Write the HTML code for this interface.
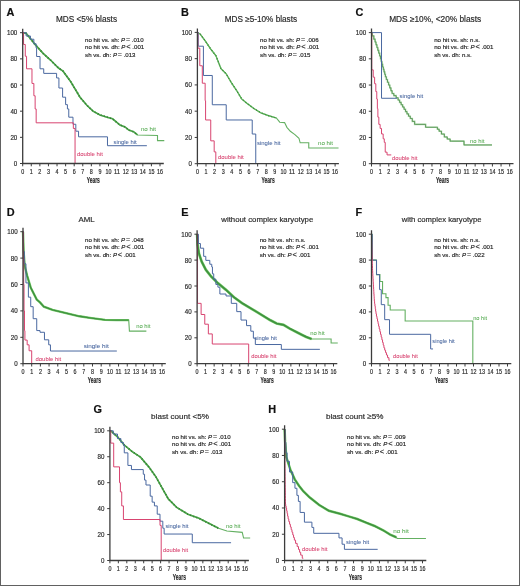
<!DOCTYPE html>
<html><head><meta charset="utf-8"><style>
html,body{margin:0;padding:0;background:#fff;}
body{width:520px;height:586px;overflow:hidden;position:relative;}
svg{position:absolute;left:0;top:0;font-family:"Liberation Sans", sans-serif;filter:blur(0.3px);}
</style></head><body>
<svg width="520" height="586" viewBox="0 0 520 586" fill="#2a2a2a">
<rect x="0.5" y="0.5" width="519" height="585" fill="#fff" stroke="#616161" stroke-width="1"/>
<path d="M22.7,32.7 L26.13,33.35 L35.4,44.86 L43.12,53.37 L50.76,60.3 L58.48,68.02 L63.03,71.16 L70.75,81.75 L80.02,97.18 L86.89,105.29 L93.07,111.18 L100.02,114.97 L106.28,116.94 L112.55,118.77 L116.24,121.91 L120.01,125.04 L124.99,126.88 L128.76,130.02 L133.74,131.85 L137.52,134.99 L157.51,135.51 L157.51,140.61 L164.29,140.61" fill="none" stroke="#64b062" stroke-width="1.1"/>
<path d="M22.7,32.7 L26.13,33.35 L35.4,44.86 L43.12,53.37 L50.76,60.3 L58.48,68.02 L63.03,71.16 L70.75,81.75 L80.02,97.18 L86.89,105.29 L93.07,111.18 L100.02,114.97 L106.28,116.94 L112.55,118.77 L116.24,121.91 L120.01,125.04 L124.99,126.88 L128.76,130.02 L133.74,131.85 L137.52,134.99" fill="none" stroke="#4aa648" stroke-width="1.6"/>
<path d="M22.7,32.7 L26.13,33.35 L35.4,44.86 L43.12,53.37 L50.76,60.3 L58.48,68.02 L63.03,71.16 L70.75,81.75 L80.02,97.18 L86.89,105.29 L93.07,111.18 L100.02,114.97 L106.28,116.94 L112.55,118.77 L116.24,121.91 L120.01,125.04 L124.99,126.88 L128.76,130.02 L133.74,131.85 L137.52,134.99" fill="none" stroke="#336f33" stroke-width="1.8" stroke-dasharray="0.7 2.6"/>
<path d="M22.7,32.7 H26.13 V35.97 H30.42 V39.24 H33.86 V43.82 H36.17 V48 H36.6 V56.51 H40.03 V68.8 H43.72 V73.38 H56.6 V77.96 H58.91 V88.03 H62.6 V97.18 H65.61 V104.64 H67.41 V108.96 H68.78 V117.2 H72.99 V124.26 H75.82 V131.19 H78.56 V136.82 H107.48 V145.71 H146.87" fill="none" stroke="#4a68a0" stroke-width="1"/>
<path d="M22.7,32.7 H23.56 V44.47 H25.27 V56.24 H26.56 V68.8 H31.97 V83.45 H33.86 V95.75 H35.14 V108.96 H36.17 V122.82 H73.33 V128.45 H75.05 V163.5 H75.05" fill="none" stroke="#d84470" stroke-width="1"/>
<path d="M22.7,28.7 V163.5 H163.8" fill="none" stroke="#3c3c3c" stroke-width="1.3"/>
<path d="M20,163.5 H22.7 M20,137.34 H22.7 M20,111.18 H22.7 M20,85.02 H22.7 M20,58.86 H22.7 M20,32.7 H22.7 M22.7,163.5 V166.3 M31.28,163.5 V166.3 M39.86,163.5 V166.3 M48.44,163.5 V166.3 M57.03,163.5 V166.3 M65.61,163.5 V166.3 M74.19,163.5 V166.3 M82.77,163.5 V166.3 M91.35,163.5 V166.3 M99.93,163.5 V166.3 M108.51,163.5 V166.3 M117.09,163.5 V166.3 M125.68,163.5 V166.3 M134.26,163.5 V166.3 M142.84,163.5 V166.3 M151.42,163.5 V166.3 M160,163.5 V166.3" stroke="#3c3c3c" stroke-width="1"/>
<text x="17.3" y="166" font-size="7.0" textLength="3.45" lengthAdjust="spacingAndGlyphs" text-anchor="end" stroke="#2a2a2a" stroke-width="0.18">0</text>
<text x="17.3" y="139.84" font-size="7.0" textLength="6.9" lengthAdjust="spacingAndGlyphs" text-anchor="end" stroke="#2a2a2a" stroke-width="0.18">20</text>
<text x="17.3" y="113.68" font-size="7.0" textLength="6.9" lengthAdjust="spacingAndGlyphs" text-anchor="end" stroke="#2a2a2a" stroke-width="0.18">40</text>
<text x="17.3" y="87.52" font-size="7.0" textLength="6.9" lengthAdjust="spacingAndGlyphs" text-anchor="end" stroke="#2a2a2a" stroke-width="0.18">60</text>
<text x="17.3" y="61.36" font-size="7.0" textLength="6.9" lengthAdjust="spacingAndGlyphs" text-anchor="end" stroke="#2a2a2a" stroke-width="0.18">80</text>
<text x="17.3" y="35.2" font-size="7.0" textLength="10.35" lengthAdjust="spacingAndGlyphs" text-anchor="end" stroke="#2a2a2a" stroke-width="0.18">100</text>
<text x="22.7" y="173.9" font-size="6.8" textLength="3" lengthAdjust="spacingAndGlyphs" text-anchor="middle" stroke="#2a2a2a" stroke-width="0.18">0</text>
<text x="31.28" y="173.9" font-size="6.8" textLength="3" lengthAdjust="spacingAndGlyphs" text-anchor="middle" stroke="#2a2a2a" stroke-width="0.18">1</text>
<text x="39.86" y="173.9" font-size="6.8" textLength="3" lengthAdjust="spacingAndGlyphs" text-anchor="middle" stroke="#2a2a2a" stroke-width="0.18">2</text>
<text x="48.44" y="173.9" font-size="6.8" textLength="3" lengthAdjust="spacingAndGlyphs" text-anchor="middle" stroke="#2a2a2a" stroke-width="0.18">3</text>
<text x="57.03" y="173.9" font-size="6.8" textLength="3" lengthAdjust="spacingAndGlyphs" text-anchor="middle" stroke="#2a2a2a" stroke-width="0.18">4</text>
<text x="65.61" y="173.9" font-size="6.8" textLength="3" lengthAdjust="spacingAndGlyphs" text-anchor="middle" stroke="#2a2a2a" stroke-width="0.18">5</text>
<text x="74.19" y="173.9" font-size="6.8" textLength="3" lengthAdjust="spacingAndGlyphs" text-anchor="middle" stroke="#2a2a2a" stroke-width="0.18">6</text>
<text x="82.77" y="173.9" font-size="6.8" textLength="3" lengthAdjust="spacingAndGlyphs" text-anchor="middle" stroke="#2a2a2a" stroke-width="0.18">7</text>
<text x="91.35" y="173.9" font-size="6.8" textLength="3" lengthAdjust="spacingAndGlyphs" text-anchor="middle" stroke="#2a2a2a" stroke-width="0.18">8</text>
<text x="99.93" y="173.9" font-size="6.8" textLength="3" lengthAdjust="spacingAndGlyphs" text-anchor="middle" stroke="#2a2a2a" stroke-width="0.18">9</text>
<text x="108.51" y="173.9" font-size="6.8" textLength="6" lengthAdjust="spacingAndGlyphs" text-anchor="middle" stroke="#2a2a2a" stroke-width="0.18">10</text>
<text x="117.09" y="173.9" font-size="6.8" textLength="6" lengthAdjust="spacingAndGlyphs" text-anchor="middle" stroke="#2a2a2a" stroke-width="0.18">11</text>
<text x="125.68" y="173.9" font-size="6.8" textLength="6" lengthAdjust="spacingAndGlyphs" text-anchor="middle" stroke="#2a2a2a" stroke-width="0.18">12</text>
<text x="134.26" y="173.9" font-size="6.8" textLength="6" lengthAdjust="spacingAndGlyphs" text-anchor="middle" stroke="#2a2a2a" stroke-width="0.18">13</text>
<text x="142.84" y="173.9" font-size="6.8" textLength="6" lengthAdjust="spacingAndGlyphs" text-anchor="middle" stroke="#2a2a2a" stroke-width="0.18">14</text>
<text x="151.42" y="173.9" font-size="6.8" textLength="6" lengthAdjust="spacingAndGlyphs" text-anchor="middle" stroke="#2a2a2a" stroke-width="0.18">15</text>
<text x="160" y="173.9" font-size="6.8" textLength="6" lengthAdjust="spacingAndGlyphs" text-anchor="middle" stroke="#2a2a2a" stroke-width="0.18">16</text>
<text x="93.25" y="183" font-size="8.6" textLength="13.2" lengthAdjust="spacingAndGlyphs" text-anchor="middle" font-weight="bold" stroke="#2a2a2a" stroke-width="0.18">Years</text>
<text x="6.6" y="15.7" font-size="10.9" font-weight="bold" fill="#111" stroke="#111" stroke-width="0.18">A</text>
<text x="56" y="21.8" font-size="8.22" textLength="61" lengthAdjust="spacingAndGlyphs" stroke="#2a2a2a" stroke-width="0.18">MDS &lt;5% blasts</text>
<text x="85.1" y="42.1" font-size="6.1" stroke="#2a2a2a" stroke-width="0.18">no hit vs. sh: <tspan font-style="italic">P</tspan><tspan font-size="7" dx="0.9">=</tspan> .010</text>
<text x="85.1" y="49.3" font-size="6.1" stroke="#2a2a2a" stroke-width="0.18">no hit vs. dh: <tspan font-style="italic">P</tspan><tspan font-size="7.4" dx="0.9">&lt;</tspan> .001</text>
<text x="85.1" y="56.5" font-size="6.1" stroke="#2a2a2a" stroke-width="0.18">sh vs. dh: <tspan font-style="italic">P</tspan><tspan font-size="7" dx="0.9">=</tspan> .013</text>
<text x="140.9" y="131.3" font-size="6.15" textLength="15" lengthAdjust="spacingAndGlyphs" fill="#5cae58" stroke="#5cae58" stroke-width="0.06">no hit</text>
<text x="113.5" y="144.1" font-size="6.15" textLength="23.2" lengthAdjust="spacingAndGlyphs" fill="#4a68a0" stroke="#4a68a0" stroke-width="0.06">single hit</text>
<text x="76.9" y="156" font-size="6.15" textLength="26" lengthAdjust="spacingAndGlyphs" fill="#d84470" stroke="#d84470" stroke-width="0.06">double hit</text>
<path d="M197.4,32.4 L200.24,34.11 L205.4,41.07 L210.57,48.81 L215.82,55.64 L220.98,68.64 L226.14,73.76 L231.31,82.56 L236.47,90.3 L241.64,98.84 L246.89,103.3 L253.77,108.42 L260.66,112.76 L267.63,115.38 L276.32,118.01 L279.76,122.21 L284.58,122.6 L286.91,127.33 L290.35,131.27 L294.91,134.68 L298.95,138.23 L300.16,142.82 L308.76,142.82 L308.76,147.94 L338.54,147.94" fill="none" stroke="#64b062" stroke-width="1.1"/>
<path d="M197.4,32.4 L200.24,34.11 L205.4,41.07 L210.57,48.81 L215.82,55.64 L220.98,68.64 L226.14,73.76 L231.31,82.56 L236.47,90.3 L241.64,98.84 L246.89,103.3 L253.77,108.42 L260.66,112.76 L267.63,115.38 L276.32,118.01" fill="none" stroke="#5db55a" stroke-width="1.2"/>
<path d="M197.4,32.4 L200.24,34.11 L205.4,41.07 L210.57,48.81 L215.82,55.64 L220.98,68.64 L226.14,73.76 L231.31,82.56 L236.47,90.3 L241.64,98.84 L246.89,103.3 L253.77,108.42 L260.66,112.76 L267.63,115.38 L276.32,118.01" fill="none" stroke="#3d7d3d" stroke-width="1.4" stroke-dasharray="0.7 2.6"/>
<path d="M197.4,32.4 H198.26 V46.19 H203.42 V75.47 H212.29 V104.75 H226.23 V119.98 H252.22 V134.03 H255.75 V163.7 H255.75" fill="none" stroke="#4a68a0" stroke-width="1"/>
<path d="M197.4,32.4 H197.83 V48.16 H199.81 V65.75 H202.31 V83.21 H205.15 V100.68 H205.58 V119.98 H210.74 V140.85 H214.18 V151.88 H215.82 V163.7 H215.82" fill="none" stroke="#d84470" stroke-width="1"/>
<path d="M197.4,28.4 V163.7 H338.9" fill="none" stroke="#3c3c3c" stroke-width="1.3"/>
<path d="M194.7,163.7 H197.4 M194.7,137.44 H197.4 M194.7,111.18 H197.4 M194.7,84.92 H197.4 M194.7,58.66 H197.4 M194.7,32.4 H197.4 M197.4,163.7 V166.5 M206.01,163.7 V166.5 M214.61,163.7 V166.5 M223.22,163.7 V166.5 M231.83,163.7 V166.5 M240.43,163.7 V166.5 M249.04,163.7 V166.5 M257.64,163.7 V166.5 M266.25,163.7 V166.5 M274.86,163.7 V166.5 M283.46,163.7 V166.5 M292.07,163.7 V166.5 M300.68,163.7 V166.5 M309.28,163.7 V166.5 M317.89,163.7 V166.5 M326.49,163.7 V166.5 M335.1,163.7 V166.5" stroke="#3c3c3c" stroke-width="1"/>
<text x="192" y="166.2" font-size="7.0" textLength="3.45" lengthAdjust="spacingAndGlyphs" text-anchor="end" stroke="#2a2a2a" stroke-width="0.18">0</text>
<text x="192" y="139.94" font-size="7.0" textLength="6.9" lengthAdjust="spacingAndGlyphs" text-anchor="end" stroke="#2a2a2a" stroke-width="0.18">20</text>
<text x="192" y="113.68" font-size="7.0" textLength="6.9" lengthAdjust="spacingAndGlyphs" text-anchor="end" stroke="#2a2a2a" stroke-width="0.18">40</text>
<text x="192" y="87.42" font-size="7.0" textLength="6.9" lengthAdjust="spacingAndGlyphs" text-anchor="end" stroke="#2a2a2a" stroke-width="0.18">60</text>
<text x="192" y="61.16" font-size="7.0" textLength="6.9" lengthAdjust="spacingAndGlyphs" text-anchor="end" stroke="#2a2a2a" stroke-width="0.18">80</text>
<text x="192" y="34.9" font-size="7.0" textLength="10.35" lengthAdjust="spacingAndGlyphs" text-anchor="end" stroke="#2a2a2a" stroke-width="0.18">100</text>
<text x="197.4" y="174.1" font-size="6.8" textLength="3" lengthAdjust="spacingAndGlyphs" text-anchor="middle" stroke="#2a2a2a" stroke-width="0.18">0</text>
<text x="206.01" y="174.1" font-size="6.8" textLength="3" lengthAdjust="spacingAndGlyphs" text-anchor="middle" stroke="#2a2a2a" stroke-width="0.18">1</text>
<text x="214.61" y="174.1" font-size="6.8" textLength="3" lengthAdjust="spacingAndGlyphs" text-anchor="middle" stroke="#2a2a2a" stroke-width="0.18">2</text>
<text x="223.22" y="174.1" font-size="6.8" textLength="3" lengthAdjust="spacingAndGlyphs" text-anchor="middle" stroke="#2a2a2a" stroke-width="0.18">3</text>
<text x="231.83" y="174.1" font-size="6.8" textLength="3" lengthAdjust="spacingAndGlyphs" text-anchor="middle" stroke="#2a2a2a" stroke-width="0.18">4</text>
<text x="240.43" y="174.1" font-size="6.8" textLength="3" lengthAdjust="spacingAndGlyphs" text-anchor="middle" stroke="#2a2a2a" stroke-width="0.18">5</text>
<text x="249.04" y="174.1" font-size="6.8" textLength="3" lengthAdjust="spacingAndGlyphs" text-anchor="middle" stroke="#2a2a2a" stroke-width="0.18">6</text>
<text x="257.64" y="174.1" font-size="6.8" textLength="3" lengthAdjust="spacingAndGlyphs" text-anchor="middle" stroke="#2a2a2a" stroke-width="0.18">7</text>
<text x="266.25" y="174.1" font-size="6.8" textLength="3" lengthAdjust="spacingAndGlyphs" text-anchor="middle" stroke="#2a2a2a" stroke-width="0.18">8</text>
<text x="274.86" y="174.1" font-size="6.8" textLength="3" lengthAdjust="spacingAndGlyphs" text-anchor="middle" stroke="#2a2a2a" stroke-width="0.18">9</text>
<text x="283.46" y="174.1" font-size="6.8" textLength="6" lengthAdjust="spacingAndGlyphs" text-anchor="middle" stroke="#2a2a2a" stroke-width="0.18">10</text>
<text x="292.07" y="174.1" font-size="6.8" textLength="6" lengthAdjust="spacingAndGlyphs" text-anchor="middle" stroke="#2a2a2a" stroke-width="0.18">11</text>
<text x="300.68" y="174.1" font-size="6.8" textLength="6" lengthAdjust="spacingAndGlyphs" text-anchor="middle" stroke="#2a2a2a" stroke-width="0.18">12</text>
<text x="309.28" y="174.1" font-size="6.8" textLength="6" lengthAdjust="spacingAndGlyphs" text-anchor="middle" stroke="#2a2a2a" stroke-width="0.18">13</text>
<text x="317.89" y="174.1" font-size="6.8" textLength="6" lengthAdjust="spacingAndGlyphs" text-anchor="middle" stroke="#2a2a2a" stroke-width="0.18">14</text>
<text x="326.49" y="174.1" font-size="6.8" textLength="6" lengthAdjust="spacingAndGlyphs" text-anchor="middle" stroke="#2a2a2a" stroke-width="0.18">15</text>
<text x="335.1" y="174.1" font-size="6.8" textLength="6" lengthAdjust="spacingAndGlyphs" text-anchor="middle" stroke="#2a2a2a" stroke-width="0.18">16</text>
<text x="268.15" y="183.2" font-size="8.6" textLength="13.2" lengthAdjust="spacingAndGlyphs" text-anchor="middle" font-weight="bold" stroke="#2a2a2a" stroke-width="0.18">Years</text>
<text x="181" y="15.9" font-size="10.9" font-weight="bold" fill="#111" stroke="#111" stroke-width="0.18">B</text>
<text x="224.8" y="22.2" font-size="8.18" textLength="72.2" lengthAdjust="spacingAndGlyphs" stroke="#2a2a2a" stroke-width="0.18">MDS ≥5-10% blasts</text>
<text x="260.1" y="42.1" font-size="6.1" stroke="#2a2a2a" stroke-width="0.18">no hit vs. sh: <tspan font-style="italic">P</tspan><tspan font-size="7" dx="0.9">=</tspan> .006</text>
<text x="260.1" y="49.3" font-size="6.1" stroke="#2a2a2a" stroke-width="0.18">no hit vs. dh: <tspan font-style="italic">P</tspan><tspan font-size="7.4" dx="0.9">&lt;</tspan> .001</text>
<text x="260.1" y="56.5" font-size="6.1" stroke="#2a2a2a" stroke-width="0.18">sh vs. dh: <tspan font-style="italic">P</tspan><tspan font-size="7" dx="0.9">=</tspan> .015</text>
<text x="318" y="144.7" font-size="6.15" textLength="15" lengthAdjust="spacingAndGlyphs" fill="#5cae58" stroke="#5cae58" stroke-width="0.06">no hit</text>
<text x="257" y="145.2" font-size="6.15" textLength="23.5" lengthAdjust="spacingAndGlyphs" fill="#4a68a0" stroke="#4a68a0" stroke-width="0.06">single hit</text>
<text x="218" y="158.7" font-size="6.15" textLength="25.7" lengthAdjust="spacingAndGlyphs" fill="#d84470" stroke="#d84470" stroke-width="0.06">double hit</text>
<path d="M371.5,32.6 H372.28 V35.88 H373.83 V39.16 H374.61 V39.16 H375.07 V41.95 H375.99 V44.75 H376.91 V47.55 H377.37 V47.55 H377.83 V50.34 H378.76 V53.14 H379.68 V55.94 H380.14 V55.94 H380.49 V58.69 H381.21 V61.44 H381.92 V64.2 H382.63 V66.95 H382.99 V66.95 H383.33 V69.41 H384.02 V71.86 H384.72 V74.32 H385.41 V76.78 H385.75 V76.78 H386.33 V79.53 H387.48 V82.29 H388.63 V85.04 H389.21 V85.04 H389.78 V87.88 H390.93 V90.72 H392.09 V93.56 H392.66 V93.56 H393.83 V95.66 H396.16 V97.76 H397.33 V97.76 H398.09 V100.07 H399.62 V102.39 H401.14 V104.7 H401.9 V104.7 H402.63 V107 H404.07 V109.29 H405.52 V111.59 H406.97 V113.88 H407.69 V113.88 H408.55 V116.18 H410.28 V118.47 H411.15 V118.47 H412.31 V121.42 H414.64 V124.37 H415.81 V124.37 H425.05 V124.37 H425.61 V127.25 H426.18 V127.25 H436.54 V127.25 H437.4 V129.22 H439.13 V131.19 H440 V131.19 H441.44 V134.07 H444.34 V136.96 H445.78 V136.96 H447.23 V139.05 H450.12 V141.15 H451.57 V141.15 H463.06 V141.15 H464.01 V144.95 H464.96 V144.95 H491.99 V144.95" fill="none" stroke="#b2dcae" stroke-width="1.6"/>
<path d="M371.5,32.6 H372.28 V35.88 H373.83 V39.16 H374.61 V39.16 H375.07 V41.95 H375.99 V44.75 H376.91 V47.55 H377.37 V47.55 H377.83 V50.34 H378.76 V53.14 H379.68 V55.94 H380.14 V55.94 H380.49 V58.69 H381.21 V61.44 H381.92 V64.2 H382.63 V66.95 H382.99 V66.95 H383.33 V69.41 H384.02 V71.86 H384.72 V74.32 H385.41 V76.78 H385.75 V76.78 H386.33 V79.53 H387.48 V82.29 H388.63 V85.04 H389.21 V85.04 H389.78 V87.88 H390.93 V90.72 H392.09 V93.56 H392.66 V93.56 H393.83 V95.66 H396.16 V97.76 H397.33 V97.76 H398.09 V100.07 H399.62 V102.39 H401.14 V104.7 H401.9 V104.7 H402.63 V107 H404.07 V109.29 H405.52 V111.59 H406.97 V113.88 H407.69 V113.88 H408.55 V116.18 H410.28 V118.47 H411.15 V118.47 H412.31 V121.42 H414.64 V124.37 H415.81 V124.37 H425.05 V124.37 H425.61 V127.25 H426.18 V127.25 H436.54 V127.25 H437.4 V129.22 H439.13 V131.19 H440 V131.19 H441.44 V134.07 H444.34 V136.96 H445.78 V136.96 H447.23 V139.05 H450.12 V141.15 H451.57 V141.15 H463.06 V141.15 H464.01 V144.95 H464.96 V144.95 H491.99 V144.95" fill="none" stroke="#4b8b4a" stroke-width="0.8"/>
<path d="M371.5,32.6 H381.52 V98.28 H396.89" fill="none" stroke="#4a68a0" stroke-width="1"/>
<path d="M371.5,32.6 H371.76 V69.83 H373.23 V77.17 H374.61 V83.73 H375.82 V91.59 H376.77 V99.07 H377.37 V108.64 H377.89 V117.16 H378.84 V124.37 H380.14 V128.43 H381.52 V133.94 H383.16 V138.79 H384.28 V142.33 H385.23 V152.16 H387.05 V154.92 H391.28" fill="none" stroke="#d84470" stroke-width="1"/>
<path d="M371.5,28.6 V163.7 H513.5" fill="none" stroke="#3c3c3c" stroke-width="1.3"/>
<path d="M368.8,163.7 H371.5 M368.8,137.48 H371.5 M368.8,111.26 H371.5 M368.8,85.04 H371.5 M368.8,58.82 H371.5 M368.8,32.6 H371.5 M371.5,163.7 V166.5 M380.14,163.7 V166.5 M388.77,163.7 V166.5 M397.41,163.7 V166.5 M406.05,163.7 V166.5 M414.69,163.7 V166.5 M423.32,163.7 V166.5 M431.96,163.7 V166.5 M440.6,163.7 V166.5 M449.24,163.7 V166.5 M457.88,163.7 V166.5 M466.51,163.7 V166.5 M475.15,163.7 V166.5 M483.79,163.7 V166.5 M492.42,163.7 V166.5 M501.06,163.7 V166.5 M509.7,163.7 V166.5" stroke="#3c3c3c" stroke-width="1"/>
<text x="366.1" y="166.2" font-size="7.0" textLength="3.45" lengthAdjust="spacingAndGlyphs" text-anchor="end" stroke="#2a2a2a" stroke-width="0.18">0</text>
<text x="366.1" y="139.98" font-size="7.0" textLength="6.9" lengthAdjust="spacingAndGlyphs" text-anchor="end" stroke="#2a2a2a" stroke-width="0.18">20</text>
<text x="366.1" y="113.76" font-size="7.0" textLength="6.9" lengthAdjust="spacingAndGlyphs" text-anchor="end" stroke="#2a2a2a" stroke-width="0.18">40</text>
<text x="366.1" y="87.54" font-size="7.0" textLength="6.9" lengthAdjust="spacingAndGlyphs" text-anchor="end" stroke="#2a2a2a" stroke-width="0.18">60</text>
<text x="366.1" y="61.32" font-size="7.0" textLength="6.9" lengthAdjust="spacingAndGlyphs" text-anchor="end" stroke="#2a2a2a" stroke-width="0.18">80</text>
<text x="366.1" y="35.1" font-size="7.0" textLength="10.35" lengthAdjust="spacingAndGlyphs" text-anchor="end" stroke="#2a2a2a" stroke-width="0.18">100</text>
<text x="371.5" y="174.1" font-size="6.8" textLength="3" lengthAdjust="spacingAndGlyphs" text-anchor="middle" stroke="#2a2a2a" stroke-width="0.18">0</text>
<text x="380.14" y="174.1" font-size="6.8" textLength="3" lengthAdjust="spacingAndGlyphs" text-anchor="middle" stroke="#2a2a2a" stroke-width="0.18">1</text>
<text x="388.77" y="174.1" font-size="6.8" textLength="3" lengthAdjust="spacingAndGlyphs" text-anchor="middle" stroke="#2a2a2a" stroke-width="0.18">2</text>
<text x="397.41" y="174.1" font-size="6.8" textLength="3" lengthAdjust="spacingAndGlyphs" text-anchor="middle" stroke="#2a2a2a" stroke-width="0.18">3</text>
<text x="406.05" y="174.1" font-size="6.8" textLength="3" lengthAdjust="spacingAndGlyphs" text-anchor="middle" stroke="#2a2a2a" stroke-width="0.18">4</text>
<text x="414.69" y="174.1" font-size="6.8" textLength="3" lengthAdjust="spacingAndGlyphs" text-anchor="middle" stroke="#2a2a2a" stroke-width="0.18">5</text>
<text x="423.32" y="174.1" font-size="6.8" textLength="3" lengthAdjust="spacingAndGlyphs" text-anchor="middle" stroke="#2a2a2a" stroke-width="0.18">6</text>
<text x="431.96" y="174.1" font-size="6.8" textLength="3" lengthAdjust="spacingAndGlyphs" text-anchor="middle" stroke="#2a2a2a" stroke-width="0.18">7</text>
<text x="440.6" y="174.1" font-size="6.8" textLength="3" lengthAdjust="spacingAndGlyphs" text-anchor="middle" stroke="#2a2a2a" stroke-width="0.18">8</text>
<text x="449.24" y="174.1" font-size="6.8" textLength="3" lengthAdjust="spacingAndGlyphs" text-anchor="middle" stroke="#2a2a2a" stroke-width="0.18">9</text>
<text x="457.88" y="174.1" font-size="6.8" textLength="6" lengthAdjust="spacingAndGlyphs" text-anchor="middle" stroke="#2a2a2a" stroke-width="0.18">10</text>
<text x="466.51" y="174.1" font-size="6.8" textLength="6" lengthAdjust="spacingAndGlyphs" text-anchor="middle" stroke="#2a2a2a" stroke-width="0.18">11</text>
<text x="475.15" y="174.1" font-size="6.8" textLength="6" lengthAdjust="spacingAndGlyphs" text-anchor="middle" stroke="#2a2a2a" stroke-width="0.18">12</text>
<text x="483.79" y="174.1" font-size="6.8" textLength="6" lengthAdjust="spacingAndGlyphs" text-anchor="middle" stroke="#2a2a2a" stroke-width="0.18">13</text>
<text x="492.42" y="174.1" font-size="6.8" textLength="6" lengthAdjust="spacingAndGlyphs" text-anchor="middle" stroke="#2a2a2a" stroke-width="0.18">14</text>
<text x="501.06" y="174.1" font-size="6.8" textLength="6" lengthAdjust="spacingAndGlyphs" text-anchor="middle" stroke="#2a2a2a" stroke-width="0.18">15</text>
<text x="509.7" y="174.1" font-size="6.8" textLength="6" lengthAdjust="spacingAndGlyphs" text-anchor="middle" stroke="#2a2a2a" stroke-width="0.18">16</text>
<text x="442.5" y="183.2" font-size="8.6" textLength="13.2" lengthAdjust="spacingAndGlyphs" text-anchor="middle" font-weight="bold" stroke="#2a2a2a" stroke-width="0.18">Years</text>
<text x="355.6" y="16" font-size="10.9" font-weight="bold" fill="#111" stroke="#111" stroke-width="0.18">C</text>
<text x="389.2" y="22.4" font-size="8.3" textLength="92" lengthAdjust="spacingAndGlyphs" stroke="#2a2a2a" stroke-width="0.18">MDS ≥10%, &lt;20% blasts</text>
<text x="434.2" y="42.1" font-size="6.1" stroke="#2a2a2a" stroke-width="0.18">no hit vs. sh: n.s.</text>
<text x="434.2" y="49.3" font-size="6.1" stroke="#2a2a2a" stroke-width="0.18">no hit vs. dh: <tspan font-style="italic">P</tspan><tspan font-size="7.4" dx="0.9">&lt;</tspan> .001</text>
<text x="434.2" y="56.5" font-size="6.1" stroke="#2a2a2a" stroke-width="0.18">sh vs. dh: n.s.</text>
<text x="470" y="143" font-size="6.15" textLength="14.4" lengthAdjust="spacingAndGlyphs" fill="#5cae58" stroke="#5cae58" stroke-width="0.06">no hit</text>
<text x="399.6" y="98.4" font-size="6.15" textLength="23.6" lengthAdjust="spacingAndGlyphs" fill="#4a68a0" stroke="#4a68a0" stroke-width="0.06">single hit</text>
<text x="392" y="159.6" font-size="6.15" textLength="25.4" lengthAdjust="spacingAndGlyphs" fill="#d84470" stroke="#d84470" stroke-width="0.06">double hit</text>
<path d="M23,231.7 L23.61,251.9 L24.74,266.15 L27.17,275.79 L30.73,287.67 L36.73,299.55 L40.03,302.45 L43.85,306.68 L52.54,309.84 L64.96,312.88 L79.47,316.31 L89.89,317.9 L105.01,319.88 L116.83,320.14 L128.73,320.14 L129.42,331.1 L146.36,331.1" fill="none" stroke="#64b062" stroke-width="1.1"/>
<path d="M23,231.7 L23.61,251.9 L24.74,266.15 L27.17,275.79 L30.73,287.67 L36.73,299.55 L40.03,302.45 L43.85,306.68 L52.54,309.84 L64.96,312.88 L79.47,316.31 L89.89,317.9 L105.01,319.88 L116.83,320.14 L128.73,320.14" fill="none" stroke="#78cc6c" stroke-width="2.4"/>
<path d="M23,231.7 L23.61,251.9 L24.74,266.15 L27.17,275.79 L30.73,287.67 L36.73,299.55 L40.03,302.45 L43.85,306.68 L52.54,309.84 L64.96,312.88 L79.47,316.31 L89.89,317.9 L105.01,319.88 L116.83,320.14 L128.73,320.14" fill="none" stroke="#3f923f" stroke-width="1.4"/>
<path d="M23,231.7 H23.43 V251.5 H24.3 V263.78 H25.95 V282.92 H28.39 V297.17 H30.73 V306.68 H33.16 V318.69 H36.73 V330.57 H40.03 V332.28 H44.46 V339.81 H48.72 V344.82 H50.45 V351.03 H116.83" fill="none" stroke="#4a68a0" stroke-width="1"/>
<path d="M23,231.7 H23.26 V258.1 H23.7 V284.5 H24.04 V310.9 H24.48 V330.7 H24.91 V340.07 H27.17 V344.82 H29.08 V350.76 H31.69 V363.7 H31.69" fill="none" stroke="#d84470" stroke-width="1"/>
<path d="M23,227.7 V363.7 H165.8" fill="none" stroke="#3c3c3c" stroke-width="1.3"/>
<path d="M20.3,363.7 H23 M20.3,337.3 H23 M20.3,310.9 H23 M20.3,284.5 H23 M20.3,258.1 H23 M20.3,231.7 H23 M23,363.7 V366.5 M31.69,363.7 V366.5 M40.38,363.7 V366.5 M49.06,363.7 V366.5 M57.75,363.7 V366.5 M66.44,363.7 V366.5 M75.12,363.7 V366.5 M83.81,363.7 V366.5 M92.5,363.7 V366.5 M101.19,363.7 V366.5 M109.88,363.7 V366.5 M118.56,363.7 V366.5 M127.25,363.7 V366.5 M135.94,363.7 V366.5 M144.62,363.7 V366.5 M153.31,363.7 V366.5 M162,363.7 V366.5" stroke="#3c3c3c" stroke-width="1"/>
<text x="17.6" y="366.2" font-size="7.0" textLength="3.45" lengthAdjust="spacingAndGlyphs" text-anchor="end" stroke="#2a2a2a" stroke-width="0.18">0</text>
<text x="17.6" y="339.8" font-size="7.0" textLength="6.9" lengthAdjust="spacingAndGlyphs" text-anchor="end" stroke="#2a2a2a" stroke-width="0.18">20</text>
<text x="17.6" y="313.4" font-size="7.0" textLength="6.9" lengthAdjust="spacingAndGlyphs" text-anchor="end" stroke="#2a2a2a" stroke-width="0.18">40</text>
<text x="17.6" y="287" font-size="7.0" textLength="6.9" lengthAdjust="spacingAndGlyphs" text-anchor="end" stroke="#2a2a2a" stroke-width="0.18">60</text>
<text x="17.6" y="260.6" font-size="7.0" textLength="6.9" lengthAdjust="spacingAndGlyphs" text-anchor="end" stroke="#2a2a2a" stroke-width="0.18">80</text>
<text x="17.6" y="234.2" font-size="7.0" textLength="10.35" lengthAdjust="spacingAndGlyphs" text-anchor="end" stroke="#2a2a2a" stroke-width="0.18">100</text>
<text x="23" y="374.1" font-size="6.8" textLength="3" lengthAdjust="spacingAndGlyphs" text-anchor="middle" stroke="#2a2a2a" stroke-width="0.18">0</text>
<text x="31.69" y="374.1" font-size="6.8" textLength="3" lengthAdjust="spacingAndGlyphs" text-anchor="middle" stroke="#2a2a2a" stroke-width="0.18">1</text>
<text x="40.38" y="374.1" font-size="6.8" textLength="3" lengthAdjust="spacingAndGlyphs" text-anchor="middle" stroke="#2a2a2a" stroke-width="0.18">2</text>
<text x="49.06" y="374.1" font-size="6.8" textLength="3" lengthAdjust="spacingAndGlyphs" text-anchor="middle" stroke="#2a2a2a" stroke-width="0.18">3</text>
<text x="57.75" y="374.1" font-size="6.8" textLength="3" lengthAdjust="spacingAndGlyphs" text-anchor="middle" stroke="#2a2a2a" stroke-width="0.18">4</text>
<text x="66.44" y="374.1" font-size="6.8" textLength="3" lengthAdjust="spacingAndGlyphs" text-anchor="middle" stroke="#2a2a2a" stroke-width="0.18">5</text>
<text x="75.12" y="374.1" font-size="6.8" textLength="3" lengthAdjust="spacingAndGlyphs" text-anchor="middle" stroke="#2a2a2a" stroke-width="0.18">6</text>
<text x="83.81" y="374.1" font-size="6.8" textLength="3" lengthAdjust="spacingAndGlyphs" text-anchor="middle" stroke="#2a2a2a" stroke-width="0.18">7</text>
<text x="92.5" y="374.1" font-size="6.8" textLength="3" lengthAdjust="spacingAndGlyphs" text-anchor="middle" stroke="#2a2a2a" stroke-width="0.18">8</text>
<text x="101.19" y="374.1" font-size="6.8" textLength="3" lengthAdjust="spacingAndGlyphs" text-anchor="middle" stroke="#2a2a2a" stroke-width="0.18">9</text>
<text x="109.88" y="374.1" font-size="6.8" textLength="6" lengthAdjust="spacingAndGlyphs" text-anchor="middle" stroke="#2a2a2a" stroke-width="0.18">10</text>
<text x="118.56" y="374.1" font-size="6.8" textLength="6" lengthAdjust="spacingAndGlyphs" text-anchor="middle" stroke="#2a2a2a" stroke-width="0.18">11</text>
<text x="127.25" y="374.1" font-size="6.8" textLength="6" lengthAdjust="spacingAndGlyphs" text-anchor="middle" stroke="#2a2a2a" stroke-width="0.18">12</text>
<text x="135.94" y="374.1" font-size="6.8" textLength="6" lengthAdjust="spacingAndGlyphs" text-anchor="middle" stroke="#2a2a2a" stroke-width="0.18">13</text>
<text x="144.62" y="374.1" font-size="6.8" textLength="6" lengthAdjust="spacingAndGlyphs" text-anchor="middle" stroke="#2a2a2a" stroke-width="0.18">14</text>
<text x="153.31" y="374.1" font-size="6.8" textLength="6" lengthAdjust="spacingAndGlyphs" text-anchor="middle" stroke="#2a2a2a" stroke-width="0.18">15</text>
<text x="162" y="374.1" font-size="6.8" textLength="6" lengthAdjust="spacingAndGlyphs" text-anchor="middle" stroke="#2a2a2a" stroke-width="0.18">16</text>
<text x="94.4" y="383.2" font-size="8.6" textLength="13.2" lengthAdjust="spacingAndGlyphs" text-anchor="middle" font-weight="bold" stroke="#2a2a2a" stroke-width="0.18">Years</text>
<text x="6.8" y="216" font-size="10.9" font-weight="bold" fill="#111" stroke="#111" stroke-width="0.18">D</text>
<text x="78.5" y="222" font-size="7.9" textLength="16.1" lengthAdjust="spacingAndGlyphs" stroke="#2a2a2a" stroke-width="0.18">AML</text>
<text x="85.1" y="242.1" font-size="6.1" stroke="#2a2a2a" stroke-width="0.18">no hit vs. sh: <tspan font-style="italic">P</tspan><tspan font-size="7" dx="0.9">=</tspan> .048</text>
<text x="85.1" y="249.3" font-size="6.1" stroke="#2a2a2a" stroke-width="0.18">no hit vs. dh: <tspan font-style="italic">P</tspan><tspan font-size="7.4" dx="0.9">&lt;</tspan> .001</text>
<text x="85.1" y="256.5" font-size="6.1" stroke="#2a2a2a" stroke-width="0.18">sh vs. dh: <tspan font-style="italic">P</tspan><tspan font-size="7.4" dx="0.9">&lt;</tspan> .001</text>
<text x="136.2" y="327.7" font-size="6.15" textLength="14.3" lengthAdjust="spacingAndGlyphs" fill="#5cae58" stroke="#5cae58" stroke-width="0.06">no hit</text>
<text x="83.7" y="348.2" font-size="6.15" textLength="25" lengthAdjust="spacingAndGlyphs" fill="#4a68a0" stroke="#4a68a0" stroke-width="0.06">single hit</text>
<text x="35.5" y="361" font-size="6.15" textLength="25.7" lengthAdjust="spacingAndGlyphs" fill="#d84470" stroke="#d84470" stroke-width="0.06">double hit</text>
<path d="M197.1,234.2 L197.7,245.47 L198.98,253.62 L201.7,261.65 L205.8,269.68 L211.17,276.55 L217.9,283.15 L226,289.88 L234.01,297.27 L242.37,303.35 L256.26,311.64 L269.99,320.06 L276.64,323.56 L283.46,324.85 L290.19,328.86 L296.84,332.23 L302.21,334.95 L306.22,336.89 L311.59,338.97 L331.11,338.97 L331.11,342.98 L337.76,342.98" fill="none" stroke="#64b062" stroke-width="1.1"/>
<path d="M197.1,234.2 L197.7,245.47 L198.98,253.62 L201.7,261.65 L205.8,269.68 L211.17,276.55 L217.9,283.15 L226,289.88 L234.01,297.27 L242.37,303.35 L256.26,311.64 L269.99,320.06 L276.64,323.56 L283.46,324.85 L290.19,328.86 L296.84,332.23 L302.21,334.95 L306.22,336.89 L311.59,338.97" fill="none" stroke="#78cc6c" stroke-width="2.7"/>
<path d="M197.1,234.2 L197.7,245.47 L198.98,253.62 L201.7,261.65 L205.8,269.68 L211.17,276.55 L217.9,283.15 L226,289.88 L234.01,297.27 L242.37,303.35 L256.26,311.64 L269.99,320.06 L276.64,323.56 L283.46,324.85 L290.19,328.86 L296.84,332.23 L302.21,334.95 L306.22,336.89 L311.59,338.97" fill="none" stroke="#3f923f" stroke-width="1.7000000000000002"/>
<path d="M197.1,234.2 H198.38 V243.52 H200.42 V248.19 H203.66 V256.34 H205.8 V260.36 H209.8 V264.24 H211.76 V266.96 H212.44 V273.83 H213.72 V279.14 H215.85 V284.45 H217.9 V287.17 H219.86 V294.03 H226 V295.97 H231.29 V303.35 H236.74 V311.64 H241 V320.06 H246.54 V325.63 H250.81 V331.2 H253.37 V338.19 H255.33 V344.53 H281.33 V349.33 H319.86" fill="none" stroke="#4a68a0" stroke-width="1"/>
<path d="M197.1,234.2 H197.53 V303.35 H201.11 V314.49 H204.77 V324.2 H208.35 V333.91 H212.27 V344.02 H248.68 V363.7 H248.68" fill="none" stroke="#d84470" stroke-width="1"/>
<path d="M197.1,230.2 V363.7 H337.3" fill="none" stroke="#3c3c3c" stroke-width="1.3"/>
<path d="M194.4,363.7 H197.1 M194.4,337.8 H197.1 M194.4,311.9 H197.1 M194.4,286 H197.1 M194.4,260.1 H197.1 M194.4,234.2 H197.1 M197.1,363.7 V366.5 M205.62,363.7 V366.5 M214.15,363.7 V366.5 M222.68,363.7 V366.5 M231.2,363.7 V366.5 M239.72,363.7 V366.5 M248.25,363.7 V366.5 M256.77,363.7 V366.5 M265.3,363.7 V366.5 M273.82,363.7 V366.5 M282.35,363.7 V366.5 M290.88,363.7 V366.5 M299.4,363.7 V366.5 M307.93,363.7 V366.5 M316.45,363.7 V366.5 M324.98,363.7 V366.5 M333.5,363.7 V366.5" stroke="#3c3c3c" stroke-width="1"/>
<text x="191.7" y="366.2" font-size="7.0" textLength="3.45" lengthAdjust="spacingAndGlyphs" text-anchor="end" stroke="#2a2a2a" stroke-width="0.18">0</text>
<text x="191.7" y="340.3" font-size="7.0" textLength="6.9" lengthAdjust="spacingAndGlyphs" text-anchor="end" stroke="#2a2a2a" stroke-width="0.18">20</text>
<text x="191.7" y="314.4" font-size="7.0" textLength="6.9" lengthAdjust="spacingAndGlyphs" text-anchor="end" stroke="#2a2a2a" stroke-width="0.18">40</text>
<text x="191.7" y="288.5" font-size="7.0" textLength="6.9" lengthAdjust="spacingAndGlyphs" text-anchor="end" stroke="#2a2a2a" stroke-width="0.18">60</text>
<text x="191.7" y="262.6" font-size="7.0" textLength="6.9" lengthAdjust="spacingAndGlyphs" text-anchor="end" stroke="#2a2a2a" stroke-width="0.18">80</text>
<text x="191.7" y="236.7" font-size="7.0" textLength="10.35" lengthAdjust="spacingAndGlyphs" text-anchor="end" stroke="#2a2a2a" stroke-width="0.18">100</text>
<text x="197.1" y="374.1" font-size="6.8" textLength="3" lengthAdjust="spacingAndGlyphs" text-anchor="middle" stroke="#2a2a2a" stroke-width="0.18">0</text>
<text x="205.62" y="374.1" font-size="6.8" textLength="3" lengthAdjust="spacingAndGlyphs" text-anchor="middle" stroke="#2a2a2a" stroke-width="0.18">1</text>
<text x="214.15" y="374.1" font-size="6.8" textLength="3" lengthAdjust="spacingAndGlyphs" text-anchor="middle" stroke="#2a2a2a" stroke-width="0.18">2</text>
<text x="222.68" y="374.1" font-size="6.8" textLength="3" lengthAdjust="spacingAndGlyphs" text-anchor="middle" stroke="#2a2a2a" stroke-width="0.18">3</text>
<text x="231.2" y="374.1" font-size="6.8" textLength="3" lengthAdjust="spacingAndGlyphs" text-anchor="middle" stroke="#2a2a2a" stroke-width="0.18">4</text>
<text x="239.72" y="374.1" font-size="6.8" textLength="3" lengthAdjust="spacingAndGlyphs" text-anchor="middle" stroke="#2a2a2a" stroke-width="0.18">5</text>
<text x="248.25" y="374.1" font-size="6.8" textLength="3" lengthAdjust="spacingAndGlyphs" text-anchor="middle" stroke="#2a2a2a" stroke-width="0.18">6</text>
<text x="256.77" y="374.1" font-size="6.8" textLength="3" lengthAdjust="spacingAndGlyphs" text-anchor="middle" stroke="#2a2a2a" stroke-width="0.18">7</text>
<text x="265.3" y="374.1" font-size="6.8" textLength="3" lengthAdjust="spacingAndGlyphs" text-anchor="middle" stroke="#2a2a2a" stroke-width="0.18">8</text>
<text x="273.82" y="374.1" font-size="6.8" textLength="3" lengthAdjust="spacingAndGlyphs" text-anchor="middle" stroke="#2a2a2a" stroke-width="0.18">9</text>
<text x="282.35" y="374.1" font-size="6.8" textLength="6" lengthAdjust="spacingAndGlyphs" text-anchor="middle" stroke="#2a2a2a" stroke-width="0.18">10</text>
<text x="290.88" y="374.1" font-size="6.8" textLength="6" lengthAdjust="spacingAndGlyphs" text-anchor="middle" stroke="#2a2a2a" stroke-width="0.18">11</text>
<text x="299.4" y="374.1" font-size="6.8" textLength="6" lengthAdjust="spacingAndGlyphs" text-anchor="middle" stroke="#2a2a2a" stroke-width="0.18">12</text>
<text x="307.93" y="374.1" font-size="6.8" textLength="6" lengthAdjust="spacingAndGlyphs" text-anchor="middle" stroke="#2a2a2a" stroke-width="0.18">13</text>
<text x="316.45" y="374.1" font-size="6.8" textLength="6" lengthAdjust="spacingAndGlyphs" text-anchor="middle" stroke="#2a2a2a" stroke-width="0.18">14</text>
<text x="324.98" y="374.1" font-size="6.8" textLength="6" lengthAdjust="spacingAndGlyphs" text-anchor="middle" stroke="#2a2a2a" stroke-width="0.18">15</text>
<text x="333.5" y="374.1" font-size="6.8" textLength="6" lengthAdjust="spacingAndGlyphs" text-anchor="middle" stroke="#2a2a2a" stroke-width="0.18">16</text>
<text x="267.2" y="383.2" font-size="8.6" textLength="13.2" lengthAdjust="spacingAndGlyphs" text-anchor="middle" font-weight="bold" stroke="#2a2a2a" stroke-width="0.18">Years</text>
<text x="181.3" y="216" font-size="10.9" font-weight="bold" fill="#111" stroke="#111" stroke-width="0.18">E</text>
<text x="221.3" y="222.3" font-size="7.9" textLength="92" lengthAdjust="spacingAndGlyphs" stroke="#2a2a2a" stroke-width="0.18">without complex karyotype</text>
<text x="259.7" y="242.1" font-size="6.1" stroke="#2a2a2a" stroke-width="0.18">no hit vs. sh: n.s.</text>
<text x="259.7" y="249.3" font-size="6.1" stroke="#2a2a2a" stroke-width="0.18">no hit vs. dh: <tspan font-style="italic">P</tspan><tspan font-size="7.4" dx="0.9">&lt;</tspan> .001</text>
<text x="259.7" y="256.5" font-size="6.1" stroke="#2a2a2a" stroke-width="0.18">sh vs. dh: <tspan font-style="italic">P</tspan><tspan font-size="7.4" dx="0.9">&lt;</tspan> .001</text>
<text x="310.2" y="334.5" font-size="6.15" textLength="14.4" lengthAdjust="spacingAndGlyphs" fill="#5cae58" stroke="#5cae58" stroke-width="0.06">no hit</text>
<text x="254.4" y="339.9" font-size="6.15" textLength="22.5" lengthAdjust="spacingAndGlyphs" fill="#4a68a0" stroke="#4a68a0" stroke-width="0.06">single hit</text>
<text x="251.2" y="357.6" font-size="6.15" textLength="25.3" lengthAdjust="spacingAndGlyphs" fill="#d84470" stroke="#d84470" stroke-width="0.06">double hit</text>
<path d="M371.5,234.2 H372.18 V260.1 H376.51 V274.6 H379.92 V281.47 H382.55 V293.77 H385.95 V297.65 H388.07 V305.3 H390.2 V309.96 H405.16 V320.96 H472.82 V363.7 H472.82" fill="none" stroke="#64b062" stroke-width="1.1"/>
<path d="M371.5,234.2 H372.18 V260.1 H376.51 V274.6 H379.57 V289.63 H381.27 V304.65 H384.68 V319.67 H389.52 V334.3 H430.66 V348.94 H433.04" fill="none" stroke="#4a68a0" stroke-width="1"/>
<path d="M371.5,234.2 H371.53 V236.63 H371.58 V239.06 H371.63 V241.48 H371.69 V243.91 H371.74 V246.34 H371.79 V248.77 H371.85 V251.2 H371.9 V253.62 H371.93 V253.62 H371.97 V256.07 H372.07 V258.51 H372.17 V260.95 H372.26 V263.39 H372.36 V265.83 H372.46 V268.28 H372.56 V270.72 H372.61 V270.72 H372.68 V273.42 H372.84 V276.11 H372.99 V278.81 H373.15 V281.51 H373.31 V284.21 H373.46 V286.91 H373.54 V286.91 H373.61 V289.28 H373.75 V291.65 H373.89 V294.03 H374.04 V296.4 H374.18 V298.78 H374.32 V301.15 H374.39 V301.15 H374.57 V303.69 H374.93 V306.23 H375.28 V308.77 H375.64 V311.3 H376 V313.84 H376.18 V313.84 H376.45 V316.33 H376.99 V318.82 H377.54 V321.3 H378.08 V323.79 H378.62 V326.27 H378.89 V326.27 H379.22 V328.99 H379.88 V331.71 H380.54 V334.43 H381.2 V337.15 H381.53 V337.15 H381.87 V339.81 H382.55 V342.46 H383.23 V345.12 H383.91 V347.77 H384.25 V347.77 H384.69 V350.19 H385.57 V352.61 H386.45 V355.02 H386.88 V355.02 H387.56 V357.68 H388.93 V360.33 H389.61 V360.33" fill="none" stroke="#d84470" stroke-width="1"/>
<path d="M371.5,230.2 V363.7 H511.3" fill="none" stroke="#3c3c3c" stroke-width="1.3"/>
<path d="M368.8,363.7 H371.5 M368.8,337.8 H371.5 M368.8,311.9 H371.5 M368.8,286 H371.5 M368.8,260.1 H371.5 M368.8,234.2 H371.5 M371.5,363.7 V366.5 M380,363.7 V366.5 M388.5,363.7 V366.5 M397,363.7 V366.5 M405.5,363.7 V366.5 M414,363.7 V366.5 M422.5,363.7 V366.5 M431,363.7 V366.5 M439.5,363.7 V366.5 M448,363.7 V366.5 M456.5,363.7 V366.5 M465,363.7 V366.5 M473.5,363.7 V366.5 M482,363.7 V366.5 M490.5,363.7 V366.5 M499,363.7 V366.5 M507.5,363.7 V366.5" stroke="#3c3c3c" stroke-width="1"/>
<text x="366.1" y="366.2" font-size="7.0" textLength="3.45" lengthAdjust="spacingAndGlyphs" text-anchor="end" stroke="#2a2a2a" stroke-width="0.18">0</text>
<text x="366.1" y="340.3" font-size="7.0" textLength="6.9" lengthAdjust="spacingAndGlyphs" text-anchor="end" stroke="#2a2a2a" stroke-width="0.18">20</text>
<text x="366.1" y="314.4" font-size="7.0" textLength="6.9" lengthAdjust="spacingAndGlyphs" text-anchor="end" stroke="#2a2a2a" stroke-width="0.18">40</text>
<text x="366.1" y="288.5" font-size="7.0" textLength="6.9" lengthAdjust="spacingAndGlyphs" text-anchor="end" stroke="#2a2a2a" stroke-width="0.18">60</text>
<text x="366.1" y="262.6" font-size="7.0" textLength="6.9" lengthAdjust="spacingAndGlyphs" text-anchor="end" stroke="#2a2a2a" stroke-width="0.18">80</text>
<text x="366.1" y="236.7" font-size="7.0" textLength="10.35" lengthAdjust="spacingAndGlyphs" text-anchor="end" stroke="#2a2a2a" stroke-width="0.18">100</text>
<text x="371.5" y="374.1" font-size="6.8" textLength="3" lengthAdjust="spacingAndGlyphs" text-anchor="middle" stroke="#2a2a2a" stroke-width="0.18">0</text>
<text x="380" y="374.1" font-size="6.8" textLength="3" lengthAdjust="spacingAndGlyphs" text-anchor="middle" stroke="#2a2a2a" stroke-width="0.18">1</text>
<text x="388.5" y="374.1" font-size="6.8" textLength="3" lengthAdjust="spacingAndGlyphs" text-anchor="middle" stroke="#2a2a2a" stroke-width="0.18">2</text>
<text x="397" y="374.1" font-size="6.8" textLength="3" lengthAdjust="spacingAndGlyphs" text-anchor="middle" stroke="#2a2a2a" stroke-width="0.18">3</text>
<text x="405.5" y="374.1" font-size="6.8" textLength="3" lengthAdjust="spacingAndGlyphs" text-anchor="middle" stroke="#2a2a2a" stroke-width="0.18">4</text>
<text x="414" y="374.1" font-size="6.8" textLength="3" lengthAdjust="spacingAndGlyphs" text-anchor="middle" stroke="#2a2a2a" stroke-width="0.18">5</text>
<text x="422.5" y="374.1" font-size="6.8" textLength="3" lengthAdjust="spacingAndGlyphs" text-anchor="middle" stroke="#2a2a2a" stroke-width="0.18">6</text>
<text x="431" y="374.1" font-size="6.8" textLength="3" lengthAdjust="spacingAndGlyphs" text-anchor="middle" stroke="#2a2a2a" stroke-width="0.18">7</text>
<text x="439.5" y="374.1" font-size="6.8" textLength="3" lengthAdjust="spacingAndGlyphs" text-anchor="middle" stroke="#2a2a2a" stroke-width="0.18">8</text>
<text x="448" y="374.1" font-size="6.8" textLength="3" lengthAdjust="spacingAndGlyphs" text-anchor="middle" stroke="#2a2a2a" stroke-width="0.18">9</text>
<text x="456.5" y="374.1" font-size="6.8" textLength="6" lengthAdjust="spacingAndGlyphs" text-anchor="middle" stroke="#2a2a2a" stroke-width="0.18">10</text>
<text x="465" y="374.1" font-size="6.8" textLength="6" lengthAdjust="spacingAndGlyphs" text-anchor="middle" stroke="#2a2a2a" stroke-width="0.18">11</text>
<text x="473.5" y="374.1" font-size="6.8" textLength="6" lengthAdjust="spacingAndGlyphs" text-anchor="middle" stroke="#2a2a2a" stroke-width="0.18">12</text>
<text x="482" y="374.1" font-size="6.8" textLength="6" lengthAdjust="spacingAndGlyphs" text-anchor="middle" stroke="#2a2a2a" stroke-width="0.18">13</text>
<text x="490.5" y="374.1" font-size="6.8" textLength="6" lengthAdjust="spacingAndGlyphs" text-anchor="middle" stroke="#2a2a2a" stroke-width="0.18">14</text>
<text x="499" y="374.1" font-size="6.8" textLength="6" lengthAdjust="spacingAndGlyphs" text-anchor="middle" stroke="#2a2a2a" stroke-width="0.18">15</text>
<text x="507.5" y="374.1" font-size="6.8" textLength="6" lengthAdjust="spacingAndGlyphs" text-anchor="middle" stroke="#2a2a2a" stroke-width="0.18">16</text>
<text x="441.4" y="383.2" font-size="8.6" textLength="13.2" lengthAdjust="spacingAndGlyphs" text-anchor="middle" font-weight="bold" stroke="#2a2a2a" stroke-width="0.18">Years</text>
<text x="355.6" y="216" font-size="10.9" font-weight="bold" fill="#111" stroke="#111" stroke-width="0.18">F</text>
<text x="401.7" y="222" font-size="7.9" textLength="79.8" lengthAdjust="spacingAndGlyphs" stroke="#2a2a2a" stroke-width="0.18">with complex karyotype</text>
<text x="434.2" y="242.1" font-size="6.1" stroke="#2a2a2a" stroke-width="0.18">no hit vs. sh: n.s.</text>
<text x="434.2" y="249.3" font-size="6.1" stroke="#2a2a2a" stroke-width="0.18">no hit vs. dh: <tspan font-style="italic">P</tspan><tspan font-size="7.4" dx="0.9">&lt;</tspan> .001</text>
<text x="434.2" y="256.5" font-size="6.1" stroke="#2a2a2a" stroke-width="0.18">sh vs. dh: <tspan font-style="italic">P</tspan><tspan font-size="7" dx="0.9">=</tspan> .022</text>
<text x="473.2" y="320" font-size="6.15" textLength="13.9" lengthAdjust="spacingAndGlyphs" fill="#5cae58" stroke="#5cae58" stroke-width="0.06">no hit</text>
<text x="432.3" y="343.1" font-size="6.15" textLength="22.4" lengthAdjust="spacingAndGlyphs" fill="#4a68a0" stroke="#4a68a0" stroke-width="0.06">single hit</text>
<text x="393.1" y="358.4" font-size="6.15" textLength="24.7" lengthAdjust="spacingAndGlyphs" fill="#d84470" stroke="#d84470" stroke-width="0.06">double hit</text>
<path d="M109.9,430.8 L111.17,431.06 L118.18,437.54 L123.76,444.55 L132.12,451.55 L140.49,457.13 L148.77,466.86 L155.78,476.58 L162.8,489.17 L168.29,498.89 L176.66,507.32 L187.89,514.2 L198.96,518.35 L210.2,524.05 L218.48,528.2 L226.93,531.06 L242.23,532.36 L243.58,538.06 L250.17,538.06" fill="none" stroke="#64b062" stroke-width="1.1"/>
<path d="M109.9,430.8 L111.17,431.06 L118.18,437.54 L123.76,444.55 L132.12,451.55 L140.49,457.13 L148.77,466.86 L155.78,476.58 L162.8,489.17 L168.29,498.89 L176.66,507.32 L187.89,514.2 L198.96,518.35 L210.2,524.05 L218.48,528.2" fill="none" stroke="#4aa648" stroke-width="1.6"/>
<path d="M109.9,430.8 L111.17,431.06 L118.18,437.54 L123.76,444.55 L132.12,451.55 L140.49,457.13 L148.77,466.86 L155.78,476.58 L162.8,489.17 L168.29,498.89 L176.66,507.32 L187.89,514.2 L198.96,518.35 L210.2,524.05 L218.48,528.2" fill="none" stroke="#336f33" stroke-width="1.8" stroke-dasharray="0.7 2.6"/>
<path d="M109.9,430.8 H113.28 V434.04 H117.51 V438.58 H120.89 V442.47 H123.42 V445.07 H124.27 V452.85 H127.9 V465.43 H131.45 V469.58 H143.28 V474.25 H144.55 V480.09 H145.98 V485.01 H150.21 V496.17 H152.15 V502.13 H154.43 V505.9 H157.22 V514.2 H160.01 V521.2 H162.8 V528.2 H164.15 V534.04 H192.29 V542.73 H231.07" fill="none" stroke="#4a68a0" stroke-width="1"/>
<path d="M109.9,430.8 H110.75 V443.12 H113.7 V466.86 H119.53 V482.68 H120.38 V491.89 H121.73 V505.9 H123.42 V519.51 H160.01 V525.35 H161.19 V560.5 H161.19" fill="none" stroke="#d84470" stroke-width="1"/>
<path d="M109.9,426.8 V560.5 H248.9" fill="none" stroke="#3c3c3c" stroke-width="1.3"/>
<path d="M107.2,560.5 H109.9 M107.2,534.56 H109.9 M107.2,508.62 H109.9 M107.2,482.68 H109.9 M107.2,456.74 H109.9 M107.2,430.8 H109.9 M109.9,560.5 V563.3 M118.35,560.5 V563.3 M126.8,560.5 V563.3 M135.25,560.5 V563.3 M143.7,560.5 V563.3 M152.15,560.5 V563.3 M160.6,560.5 V563.3 M169.05,560.5 V563.3 M177.5,560.5 V563.3 M185.95,560.5 V563.3 M194.4,560.5 V563.3 M202.85,560.5 V563.3 M211.3,560.5 V563.3 M219.75,560.5 V563.3 M228.2,560.5 V563.3 M236.65,560.5 V563.3 M245.1,560.5 V563.3" stroke="#3c3c3c" stroke-width="1"/>
<text x="104.5" y="563" font-size="7.0" textLength="3.45" lengthAdjust="spacingAndGlyphs" text-anchor="end" stroke="#2a2a2a" stroke-width="0.18">0</text>
<text x="104.5" y="537.06" font-size="7.0" textLength="6.9" lengthAdjust="spacingAndGlyphs" text-anchor="end" stroke="#2a2a2a" stroke-width="0.18">20</text>
<text x="104.5" y="511.12" font-size="7.0" textLength="6.9" lengthAdjust="spacingAndGlyphs" text-anchor="end" stroke="#2a2a2a" stroke-width="0.18">40</text>
<text x="104.5" y="485.18" font-size="7.0" textLength="6.9" lengthAdjust="spacingAndGlyphs" text-anchor="end" stroke="#2a2a2a" stroke-width="0.18">60</text>
<text x="104.5" y="459.24" font-size="7.0" textLength="6.9" lengthAdjust="spacingAndGlyphs" text-anchor="end" stroke="#2a2a2a" stroke-width="0.18">80</text>
<text x="104.5" y="433.3" font-size="7.0" textLength="10.35" lengthAdjust="spacingAndGlyphs" text-anchor="end" stroke="#2a2a2a" stroke-width="0.18">100</text>
<text x="109.9" y="570.9" font-size="6.8" textLength="3" lengthAdjust="spacingAndGlyphs" text-anchor="middle" stroke="#2a2a2a" stroke-width="0.18">0</text>
<text x="118.35" y="570.9" font-size="6.8" textLength="3" lengthAdjust="spacingAndGlyphs" text-anchor="middle" stroke="#2a2a2a" stroke-width="0.18">1</text>
<text x="126.8" y="570.9" font-size="6.8" textLength="3" lengthAdjust="spacingAndGlyphs" text-anchor="middle" stroke="#2a2a2a" stroke-width="0.18">2</text>
<text x="135.25" y="570.9" font-size="6.8" textLength="3" lengthAdjust="spacingAndGlyphs" text-anchor="middle" stroke="#2a2a2a" stroke-width="0.18">3</text>
<text x="143.7" y="570.9" font-size="6.8" textLength="3" lengthAdjust="spacingAndGlyphs" text-anchor="middle" stroke="#2a2a2a" stroke-width="0.18">4</text>
<text x="152.15" y="570.9" font-size="6.8" textLength="3" lengthAdjust="spacingAndGlyphs" text-anchor="middle" stroke="#2a2a2a" stroke-width="0.18">5</text>
<text x="160.6" y="570.9" font-size="6.8" textLength="3" lengthAdjust="spacingAndGlyphs" text-anchor="middle" stroke="#2a2a2a" stroke-width="0.18">6</text>
<text x="169.05" y="570.9" font-size="6.8" textLength="3" lengthAdjust="spacingAndGlyphs" text-anchor="middle" stroke="#2a2a2a" stroke-width="0.18">7</text>
<text x="177.5" y="570.9" font-size="6.8" textLength="3" lengthAdjust="spacingAndGlyphs" text-anchor="middle" stroke="#2a2a2a" stroke-width="0.18">8</text>
<text x="185.95" y="570.9" font-size="6.8" textLength="3" lengthAdjust="spacingAndGlyphs" text-anchor="middle" stroke="#2a2a2a" stroke-width="0.18">9</text>
<text x="194.4" y="570.9" font-size="6.8" textLength="6" lengthAdjust="spacingAndGlyphs" text-anchor="middle" stroke="#2a2a2a" stroke-width="0.18">10</text>
<text x="202.85" y="570.9" font-size="6.8" textLength="6" lengthAdjust="spacingAndGlyphs" text-anchor="middle" stroke="#2a2a2a" stroke-width="0.18">11</text>
<text x="211.3" y="570.9" font-size="6.8" textLength="6" lengthAdjust="spacingAndGlyphs" text-anchor="middle" stroke="#2a2a2a" stroke-width="0.18">12</text>
<text x="219.75" y="570.9" font-size="6.8" textLength="6" lengthAdjust="spacingAndGlyphs" text-anchor="middle" stroke="#2a2a2a" stroke-width="0.18">13</text>
<text x="228.2" y="570.9" font-size="6.8" textLength="6" lengthAdjust="spacingAndGlyphs" text-anchor="middle" stroke="#2a2a2a" stroke-width="0.18">14</text>
<text x="236.65" y="570.9" font-size="6.8" textLength="6" lengthAdjust="spacingAndGlyphs" text-anchor="middle" stroke="#2a2a2a" stroke-width="0.18">15</text>
<text x="245.1" y="570.9" font-size="6.8" textLength="6" lengthAdjust="spacingAndGlyphs" text-anchor="middle" stroke="#2a2a2a" stroke-width="0.18">16</text>
<text x="179.4" y="580" font-size="8.6" textLength="13.2" lengthAdjust="spacingAndGlyphs" text-anchor="middle" font-weight="bold" stroke="#2a2a2a" stroke-width="0.18">Years</text>
<text x="93.6" y="412.5" font-size="10.9" font-weight="bold" fill="#111" stroke="#111" stroke-width="0.18">G</text>
<text x="151.1" y="418.5" font-size="8.09" textLength="57.8" lengthAdjust="spacingAndGlyphs" stroke="#2a2a2a" stroke-width="0.18">blast count &lt;5%</text>
<text x="172" y="438.9" font-size="6.1" stroke="#2a2a2a" stroke-width="0.18">no hit vs. sh: <tspan font-style="italic">P</tspan><tspan font-size="7" dx="0.9">=</tspan> .010</text>
<text x="172" y="446.25" font-size="6.1" stroke="#2a2a2a" stroke-width="0.18">no hit vs. dh: <tspan font-style="italic">P</tspan><tspan font-size="7.4" dx="0.9">&lt;</tspan> .001</text>
<text x="172" y="453.6" font-size="6.1" stroke="#2a2a2a" stroke-width="0.18">sh vs. dh: <tspan font-style="italic">P</tspan><tspan font-size="7" dx="0.9">=</tspan> .013</text>
<text x="226" y="527.6" font-size="6.15" textLength="14.4" lengthAdjust="spacingAndGlyphs" fill="#5cae58" stroke="#5cae58" stroke-width="0.06">no hit</text>
<text x="165.4" y="528" font-size="6.15" textLength="23.1" lengthAdjust="spacingAndGlyphs" fill="#4a68a0" stroke="#4a68a0" stroke-width="0.06">single hit</text>
<text x="163.1" y="552" font-size="6.15" textLength="25" lengthAdjust="spacingAndGlyphs" fill="#d84470" stroke="#d84470" stroke-width="0.06">double hit</text>
<path d="M284.6,429.2 L285.12,441.41 L286.32,457.04 L290.46,469.9 L294.77,479.36 L298.99,485.79 L303.3,491.17 L309.59,497.34 L319.16,504.96 L328.81,510.74 L340.02,513.76 L348.64,516.38 L357.26,519.01 L365.96,522.55 L374.58,525.97 L383.2,530.3 L390.18,534.63 L396.21,537.26 L397.07,538.44 L425.95,538.44" fill="none" stroke="#64b062" stroke-width="1.1"/>
<path d="M284.6,429.2 L285.12,441.41 L286.32,457.04 L290.46,469.9 L294.77,479.36 L298.99,485.79 L303.3,491.17 L309.59,497.34 L319.16,504.96 L328.81,510.74 L340.02,513.76 L348.64,516.38 L357.26,519.01 L365.96,522.55 L374.58,525.97 L383.2,530.3 L390.18,534.63 L396.21,537.26" fill="none" stroke="#78cc6c" stroke-width="2.5"/>
<path d="M284.6,429.2 L285.12,441.41 L286.32,457.04 L290.46,469.9 L294.77,479.36 L298.99,485.79 L303.3,491.17 L309.59,497.34 L319.16,504.96 L328.81,510.74 L340.02,513.76 L348.64,516.38 L357.26,519.01 L365.96,522.55 L374.58,525.97 L383.2,530.3 L390.18,534.63 L396.21,537.26" fill="none" stroke="#3f923f" stroke-width="1.5"/>
<path d="M284.6,429.2 H285.03 V442.33 H285.89 V452.83 H287.1 V461.37 H289.51 V472 H292.7 V482.64 H294.94 V488.28 H296.92 V495.38 H298.39 V501.41 H300.11 V512.44 H304.42 V522.16 H311.92 V527.41 H313.73 V533.32 H338.98 V537.92 H342.09 V544.22 H344.41 V549.34 H377.68" fill="none" stroke="#4a68a0" stroke-width="1"/>
<path d="M284.6,429.2 H284.61 V431.83 H284.64 V434.45 H284.66 V437.08 H284.69 V439.7 H284.72 V442.33 H284.74 V444.96 H284.77 V447.58 H284.79 V450.21 H284.82 V452.83 H284.85 V455.46 H284.86 V455.46 H284.87 V458.09 H284.9 V460.71 H284.92 V463.34 H284.95 V465.96 H284.97 V468.59 H285 V471.22 H285.03 V473.84 H285.05 V476.47 H285.08 V479.09 H285.1 V481.72 H285.12 V481.72 H285.14 V484.51 H285.18 V487.3 H285.22 V490.09 H285.27 V492.88 H285.31 V495.67 H285.35 V498.46 H285.4 V501.25 H285.44 V504.04 H285.46 V504.04 H285.68 V506.01 H286.11 V507.98 H286.32 V507.98 H286.58 V510.7 H287.1 V513.43 H287.62 V516.15 H288.13 V518.88 H288.39 V518.88 H288.79 V521.57 H289.59 V524.26 H290.39 V526.95 H291.18 V529.64 H291.58 V529.64 H291.98 V532.27 H292.78 V534.9 H293.57 V537.52 H294.37 V540.15 H294.77 V540.15 H295.57 V543.37 H297.16 V546.58 H297.96 V546.58 H298.5 V549.43 H299.6 V552.27 H300.69 V555.12 H301.23 V555.12 H302.27 V558.27 H303.3 V558.27" fill="none" stroke="#d84470" stroke-width="1"/>
<path d="M284.6,425.2 V560.5 H426.3" fill="none" stroke="#3c3c3c" stroke-width="1.3"/>
<path d="M281.9,560.5 H284.6 M281.9,534.24 H284.6 M281.9,507.98 H284.6 M281.9,481.72 H284.6 M281.9,455.46 H284.6 M281.9,429.2 H284.6 M284.6,560.5 V563.3 M293.22,560.5 V563.3 M301.84,560.5 V563.3 M310.46,560.5 V563.3 M319.08,560.5 V563.3 M327.69,560.5 V563.3 M336.31,560.5 V563.3 M344.93,560.5 V563.3 M353.55,560.5 V563.3 M362.17,560.5 V563.3 M370.79,560.5 V563.3 M379.41,560.5 V563.3 M388.02,560.5 V563.3 M396.64,560.5 V563.3 M405.26,560.5 V563.3 M413.88,560.5 V563.3 M422.5,560.5 V563.3" stroke="#3c3c3c" stroke-width="1"/>
<text x="279.2" y="563" font-size="7.0" textLength="3.45" lengthAdjust="spacingAndGlyphs" text-anchor="end" stroke="#2a2a2a" stroke-width="0.18">0</text>
<text x="279.2" y="536.74" font-size="7.0" textLength="6.9" lengthAdjust="spacingAndGlyphs" text-anchor="end" stroke="#2a2a2a" stroke-width="0.18">20</text>
<text x="279.2" y="510.48" font-size="7.0" textLength="6.9" lengthAdjust="spacingAndGlyphs" text-anchor="end" stroke="#2a2a2a" stroke-width="0.18">40</text>
<text x="279.2" y="484.22" font-size="7.0" textLength="6.9" lengthAdjust="spacingAndGlyphs" text-anchor="end" stroke="#2a2a2a" stroke-width="0.18">60</text>
<text x="279.2" y="457.96" font-size="7.0" textLength="6.9" lengthAdjust="spacingAndGlyphs" text-anchor="end" stroke="#2a2a2a" stroke-width="0.18">80</text>
<text x="279.2" y="431.7" font-size="7.0" textLength="10.35" lengthAdjust="spacingAndGlyphs" text-anchor="end" stroke="#2a2a2a" stroke-width="0.18">100</text>
<text x="284.6" y="570.9" font-size="6.8" textLength="3" lengthAdjust="spacingAndGlyphs" text-anchor="middle" stroke="#2a2a2a" stroke-width="0.18">0</text>
<text x="293.22" y="570.9" font-size="6.8" textLength="3" lengthAdjust="spacingAndGlyphs" text-anchor="middle" stroke="#2a2a2a" stroke-width="0.18">1</text>
<text x="301.84" y="570.9" font-size="6.8" textLength="3" lengthAdjust="spacingAndGlyphs" text-anchor="middle" stroke="#2a2a2a" stroke-width="0.18">2</text>
<text x="310.46" y="570.9" font-size="6.8" textLength="3" lengthAdjust="spacingAndGlyphs" text-anchor="middle" stroke="#2a2a2a" stroke-width="0.18">3</text>
<text x="319.08" y="570.9" font-size="6.8" textLength="3" lengthAdjust="spacingAndGlyphs" text-anchor="middle" stroke="#2a2a2a" stroke-width="0.18">4</text>
<text x="327.69" y="570.9" font-size="6.8" textLength="3" lengthAdjust="spacingAndGlyphs" text-anchor="middle" stroke="#2a2a2a" stroke-width="0.18">5</text>
<text x="336.31" y="570.9" font-size="6.8" textLength="3" lengthAdjust="spacingAndGlyphs" text-anchor="middle" stroke="#2a2a2a" stroke-width="0.18">6</text>
<text x="344.93" y="570.9" font-size="6.8" textLength="3" lengthAdjust="spacingAndGlyphs" text-anchor="middle" stroke="#2a2a2a" stroke-width="0.18">7</text>
<text x="353.55" y="570.9" font-size="6.8" textLength="3" lengthAdjust="spacingAndGlyphs" text-anchor="middle" stroke="#2a2a2a" stroke-width="0.18">8</text>
<text x="362.17" y="570.9" font-size="6.8" textLength="3" lengthAdjust="spacingAndGlyphs" text-anchor="middle" stroke="#2a2a2a" stroke-width="0.18">9</text>
<text x="370.79" y="570.9" font-size="6.8" textLength="6" lengthAdjust="spacingAndGlyphs" text-anchor="middle" stroke="#2a2a2a" stroke-width="0.18">10</text>
<text x="379.41" y="570.9" font-size="6.8" textLength="6" lengthAdjust="spacingAndGlyphs" text-anchor="middle" stroke="#2a2a2a" stroke-width="0.18">11</text>
<text x="388.02" y="570.9" font-size="6.8" textLength="6" lengthAdjust="spacingAndGlyphs" text-anchor="middle" stroke="#2a2a2a" stroke-width="0.18">12</text>
<text x="396.64" y="570.9" font-size="6.8" textLength="6" lengthAdjust="spacingAndGlyphs" text-anchor="middle" stroke="#2a2a2a" stroke-width="0.18">13</text>
<text x="405.26" y="570.9" font-size="6.8" textLength="6" lengthAdjust="spacingAndGlyphs" text-anchor="middle" stroke="#2a2a2a" stroke-width="0.18">14</text>
<text x="413.88" y="570.9" font-size="6.8" textLength="6" lengthAdjust="spacingAndGlyphs" text-anchor="middle" stroke="#2a2a2a" stroke-width="0.18">15</text>
<text x="422.5" y="570.9" font-size="6.8" textLength="6" lengthAdjust="spacingAndGlyphs" text-anchor="middle" stroke="#2a2a2a" stroke-width="0.18">16</text>
<text x="355.45" y="580" font-size="8.6" textLength="13.2" lengthAdjust="spacingAndGlyphs" text-anchor="middle" font-weight="bold" stroke="#2a2a2a" stroke-width="0.18">Years</text>
<text x="268.2" y="412.5" font-size="10.9" font-weight="bold" fill="#111" stroke="#111" stroke-width="0.18">H</text>
<text x="326" y="418.5" font-size="8.06" textLength="57.3" lengthAdjust="spacingAndGlyphs" stroke="#2a2a2a" stroke-width="0.18">blast count ≥5%</text>
<text x="347" y="438.9" font-size="6.1" stroke="#2a2a2a" stroke-width="0.18">no hit vs. sh: <tspan font-style="italic">P</tspan><tspan font-size="7" dx="0.9">=</tspan> .009</text>
<text x="347" y="446.25" font-size="6.1" stroke="#2a2a2a" stroke-width="0.18">no hit vs. dh: <tspan font-style="italic">P</tspan><tspan font-size="7.4" dx="0.9">&lt;</tspan> .001</text>
<text x="347" y="453.6" font-size="6.1" stroke="#2a2a2a" stroke-width="0.18">sh vs. dh: <tspan font-style="italic">P</tspan><tspan font-size="7.4" dx="0.9">&lt;</tspan> .001</text>
<text x="393.2" y="532.7" font-size="6.15" textLength="15.5" lengthAdjust="spacingAndGlyphs" fill="#5cae58" stroke="#5cae58" stroke-width="0.06">no hit</text>
<text x="346.1" y="544.3" font-size="6.15" textLength="23.1" lengthAdjust="spacingAndGlyphs" fill="#4a68a0" stroke="#4a68a0" stroke-width="0.06">single hit</text>
<text x="302" y="550.7" font-size="6.15" textLength="25.5" lengthAdjust="spacingAndGlyphs" fill="#d84470" stroke="#d84470" stroke-width="0.06">double hit</text>
</svg>
</body></html>
